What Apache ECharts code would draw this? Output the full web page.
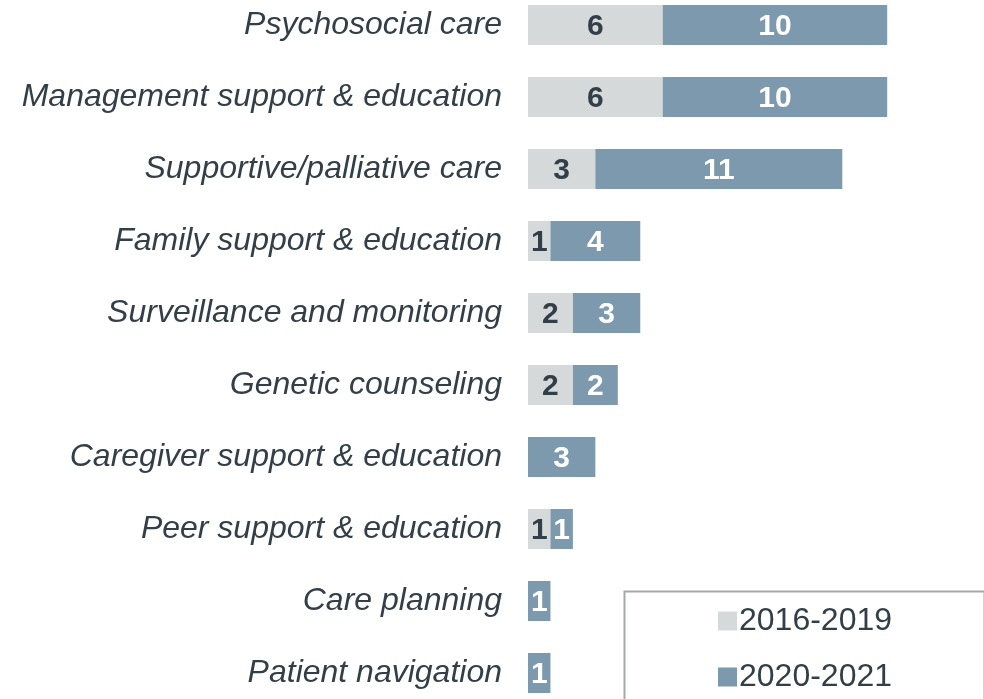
<!DOCTYPE html>
<html>
<head>
<meta charset="utf-8">
<script src="https://cdn.jsdelivr.net/npm/echarts@6/dist/echarts.min.js"></script>
<style>
  html, body { margin: 0; padding: 0; background: #fff; overflow: hidden; }
  #chart { width: 984px; height: 720px; margin-top: -11px; }
</style>
</head>
<body>
<div id="chart"></div>
<script>
// data, top row first
var categories = ['Psychosocial care', 'Management support & education', 'Supportive/palliative care',
  'Family support & education', 'Surveillance and monitoring', 'Genetic counseling',
  'Caregiver support & education', 'Peer support & education', 'Care planning', 'Patient navigation'];
var early = [6, 6, 3, 1, 2, 2, 0, 1, 0, 0];
var recent = [10, 10, 11, 4, 3, 2, 3, 1, 1, 1];
var seriesNames = ['2016-2019', '2020-2021'];

var myChart = echarts.init(document.getElementById('chart'));

function hideZero(p) {
  return p.value ? p.value : '';
}

var option = {
  animation: false,
  grid: {
    left: 528,
    right: 7,
    top: 0,
    bottom: 0
  },
  // box round the legend (page is shifted up 11px)
  graphic: [{
    type: 'rect',
    left: 622,
    top: 600,
    shape: { width: 360, height: 140 },
    style: { fill: 'none', stroke: '#a5a8ab', lineWidth: 2 },
    z: 1
  }],
  legend: {
    orient: 'vertical',
    left: 718,
    top: 616,
    data: seriesNames,
    icon: 'rect',
    itemWidth: 19,
    itemHeight: 19,
    itemGap: 24,
    padding: 0,
    textStyle: {
      fontFamily: 'Liberation Sans, Arial, sans-serif',
      fontSize: 32,
      color: '#333f48',
      padding: [0, 0, 0, -3]
    }
  },
  xAxis: {
    type: 'value',
    min: 0,
    max: 20,
    show: false
  },
  yAxis: {
    type: 'category',
    data: categories,
    inverse: true,
    axisLine: { show: false },
    axisTick: { show: false },
    axisLabel: {
      margin: 26,
      padding: [4, 0, 0, 0],
      fontFamily: 'Liberation Sans, Arial, sans-serif',
      fontStyle: 'italic',
      fontSize: 32,
      color: '#333f48'
    }
  },
  series: [
    {
      name: seriesNames[0],
      type: 'bar',
      stack: 'total',
      barWidth: 40,
      itemStyle: { color: '#d5d9da' },
      label: {
        show: true,
        position: 'inside',
        offset: [0, 2],
        formatter: hideZero,
        fontFamily: 'Liberation Sans, Arial, sans-serif',
        fontWeight: 'bold',
        fontSize: 30,
        color: '#333f48'
      },
      data: early
    },
    {
      name: seriesNames[1],
      type: 'bar',
      stack: 'total',
      barWidth: 40,
      itemStyle: { color: '#7d99ad' },
      label: {
        show: true,
        position: 'inside',
        offset: [0, 2],
        formatter: hideZero,
        fontFamily: 'Liberation Sans, Arial, sans-serif',
        fontWeight: 'bold',
        fontSize: 30,
        color: '#ffffff'
      },
      data: recent
    }
  ]
};
myChart.setOption(option);
</script>
</body>
</html>
